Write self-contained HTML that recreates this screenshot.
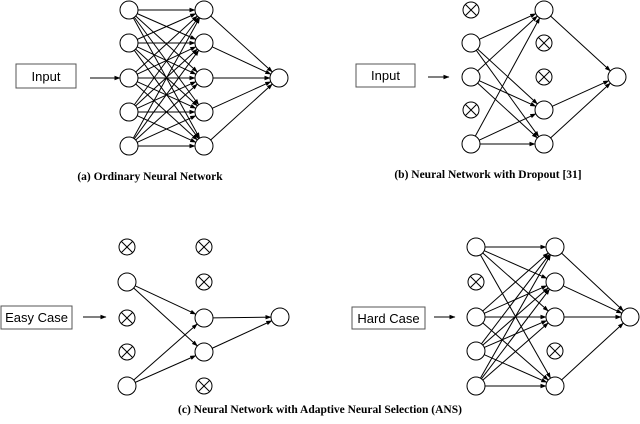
<!DOCTYPE html>
<html><head><meta charset="utf-8"><style>
body{margin:0;background:#fff;}
svg{display:block;}
.box{font-family:"Liberation Sans",sans-serif;font-size:13px;}
.cap{font-family:"Liberation Serif",serif;font-weight:bold;font-size:11.5px;}
</style></head><body>
<svg id="s" width="640" height="424" viewBox="0 0 640 424" xmlns="http://www.w3.org/2000/svg">
<defs><marker id="ah" markerWidth="6" markerHeight="6" refX="5.5" refY="3" orient="auto" markerUnits="userSpaceOnUse"><path d="M0,0.8 L6,3 L0,5.2 z" fill="#000"/></marker></defs>
<g id="g" stroke="#000" stroke-width="1" fill="none"></g>
<rect x="16" y="64" width="60" height="24" fill="#fff" stroke="#555"/>
<text x="46" y="81" text-anchor="middle" class="box">Input</text>
<rect x="356" y="64" width="59" height="23" fill="#fff" stroke="#555"/>
<text x="385.5" y="80" text-anchor="middle" class="box">Input</text>
<rect x="1" y="306" width="71" height="23" fill="#fff" stroke="#555"/>
<text x="36.5" y="322" text-anchor="middle" class="box">Easy Case</text>
<rect x="352" y="307" width="73" height="22" fill="#fff" stroke="#555"/>
<text x="388.5" y="323" text-anchor="middle" class="box">Hard Case</text>
<text x="150" y="180" text-anchor="middle" class="cap">(a) Ordinary Neural Network</text>
<text x="488" y="178" text-anchor="middle" class="cap">(b) Neural Network with Dropout [31]</text>
<text x="320" y="413" text-anchor="middle" class="cap">(c) Neural Network with Adaptive Neural Selection (ANS)</text>
</svg>
<script>
var g=document.getElementById('g'),NS='http://www.w3.org/2000/svg',R=9;
function el(t,a){var e=document.createElementNS(NS,t);for(var k in a)e.setAttribute(k,a[k]);g.appendChild(e);return e;}
function arrow(x1,y1,x2,y2,r){var dx=x2-x1,dy=y2-y1,L=Math.hypot(dx,dy);
 el('line',{x1:x1+dx/L*r,y1:y1+dy/L*r,x2:x2-dx/L*r,y2:y2-dy/L*r,'marker-end':'url(#ah)'});}
function net(ix,hx,ox,ys,oy,inOff,hOff){
 var inA=[],hA=[];
 for(var i=0;i<5;i++){if(inOff.indexOf(i)<0)inA.push(i);if(hOff.indexOf(i)<0)hA.push(i);}
 inA.forEach(function(a){hA.forEach(function(b){arrow(ix,ys[a],hx,ys[b],R);});});
 hA.forEach(function(b){arrow(hx,ys[b],ox,oy,R);});
 function node(x,y,off){
  if(off){var r=8;el('circle',{cx:x,cy:y,r:r,fill:'#fff'});var d=r*0.707;
   el('line',{x1:x-d,y1:y-d,x2:x+d,y2:y+d});el('line',{x1:x-d,y1:y+d,x2:x+d,y2:y-d});}
  else el('circle',{cx:x,cy:y,r:R,fill:'#fff'});}
 for(var i=0;i<5;i++){node(ix,ys[i],inOff.indexOf(i)>=0);node(hx,ys[i],hOff.indexOf(i)>=0);}
 node(ox,oy,false);
}
net(129,204,279,[10,43,78,112,146],78,[],[]);
net(471,544,617,[10,43,77,110,144],77,[0,3],[1,2]);
net(127,204,280,[247,282,318,352,386],317,[0,2,3],[0,1,4]);
net(476,555,630,[247,282,317,351,386],317,[1],[3]);
arrow(90,78,120,78,0);
arrow(428,77,449,77,0);
arrow(83,317,106,317,0);
arrow(434,317,455,317,0);
</script>
</body></html>
